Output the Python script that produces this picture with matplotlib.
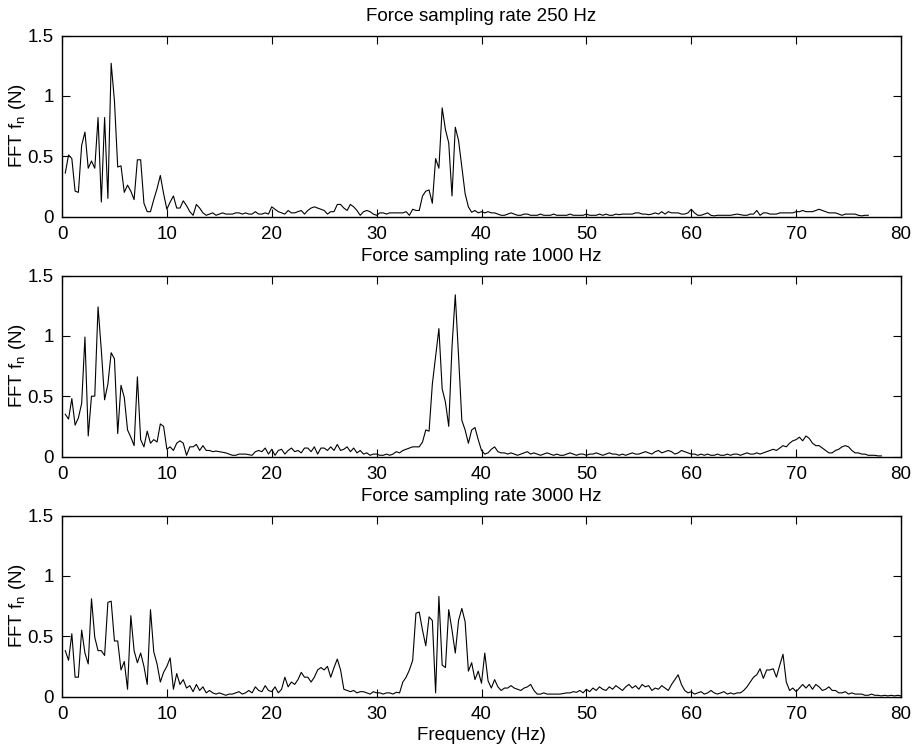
import numpy as np
import matplotlib
matplotlib.use("Agg")
import matplotlib.pyplot as plt

plt.rcParams['font.family'] = ['Liberation Sans', 'DejaVu Sans']
plt.rcParams['mathtext.fontset'] = 'custom'
plt.rcParams['mathtext.rm'] = 'Liberation Sans'
plt.rcParams['font.size'] = 13.5

DF = 0.3125  # frequency bin width (Hz)

titles = ["Force sampling rate 250 Hz",
          "Force sampling rate 1000 Hz",
          "Force sampling rate 3000 Hz"]

amp_250 = [
    0.36, 0.51, 0.48, 0.21, 0.20, 0.59, 0.70, 0.40, 0.46, 0.40,
    0.82, 0.12, 0.82, 0.15, 1.27, 0.96, 0.41, 0.42, 0.20, 0.26,
    0.21, 0.14, 0.47, 0.47, 0.11, 0.04, 0.04, 0.14, 0.23, 0.34,
    0.19, 0.06, 0.12, 0.17, 0.07, 0.07, 0.13, 0.09, 0.04, 0.01,
    0.10, 0.07, 0.03, 0.01, 0.02, 0.03, 0.01, 0.02, 0.03, 0.02,
    0.02, 0.02, 0.03, 0.03, 0.02, 0.03, 0.02, 0.02, 0.04, 0.02,
    0.02, 0.03, 0.02, 0.08, 0.06, 0.04, 0.03, 0.02, 0.05, 0.03,
    0.03, 0.04, 0.05, 0.02, 0.05, 0.07, 0.08, 0.07, 0.06, 0.05,
    0.02, 0.04, 0.04, 0.10, 0.10, 0.07, 0.05, 0.10, 0.08, 0.05,
    0.01, 0.04, 0.05, 0.04, 0.02, 0.01, 0.03, 0.03, 0.02, 0.03,
    0.03, 0.03, 0.03, 0.03, 0.04, 0.01, 0.06, 0.05, 0.05, 0.17,
    0.21, 0.22, 0.11, 0.48, 0.40, 0.90, 0.72, 0.61, 0.17, 0.74,
    0.63, 0.41, 0.19, 0.08, 0.035, 0.05, 0.03, 0.04, 0.03, 0.04,
    0.03, 0.03, 0.02, 0.01, 0.01, 0.02, 0.03, 0.02, 0.01, 0.01,
    0.02, 0.02, 0.01, 0.01, 0.01, 0.02, 0.01, 0.01, 0.01, 0.02,
    0.01, 0.01, 0.01, 0.01, 0.02, 0.01, 0.01, 0.01, 0.01, 0.02,
    0.01, 0.01, 0.01, 0.02, 0.01, 0.02, 0.01, 0.01, 0.02, 0.015,
    0.02, 0.02, 0.02, 0.02, 0.03, 0.03, 0.02, 0.02, 0.015, 0.02,
    0.03, 0.02, 0.04, 0.02, 0.04, 0.03, 0.03, 0.03, 0.02, 0.02,
    0.03, 0.06, 0.03, 0.01, 0.01, 0.02, 0.03, 0.01, 0.005, 0.01,
    0.01, 0.01, 0.01, 0.01, 0.015, 0.02, 0.015, 0.01, 0.01, 0.02,
    0.02, 0.05, 0.01, 0.03, 0.03, 0.02, 0.02, 0.02, 0.03, 0.03,
    0.03, 0.03, 0.03, 0.04, 0.04, 0.05, 0.04, 0.04, 0.04, 0.05,
    0.06, 0.05, 0.04, 0.03, 0.03, 0.03, 0.02, 0.01, 0.02, 0.02,
    0.02, 0.02, 0.01, 0.005, 0.01, 0.01,
]

amp_1000 = [
    0.35, 0.31, 0.48, 0.26, 0.32, 0.44, 0.99, 0.17, 0.50, 0.50,
    1.24, 0.88, 0.47, 0.60, 0.86, 0.81, 0.19, 0.59, 0.49, 0.22,
    0.16, 0.09, 0.66, 0.14, 0.08, 0.21, 0.11, 0.14, 0.12, 0.27,
    0.25, 0.06, 0.08, 0.05, 0.11, 0.13, 0.11, 0.01, 0.08, 0.08,
    0.10, 0.05, 0.09, 0.05, 0.05, 0.04, 0.045, 0.04, 0.035, 0.03,
    0.02, 0.01, 0.01, 0.02, 0.02, 0.02, 0.015, 0.01, 0.04, 0.05,
    0.04, 0.07, 0.02, 0.06, 0.01, 0.05, 0.06, 0.02, 0.05, 0.07,
    0.04, 0.05, 0.03, 0.07, 0.07, 0.04, 0.08, 0.02, 0.07, 0.07,
    0.05, 0.08, 0.05, 0.10, 0.05, 0.06, 0.08, 0.04, 0.07, 0.03,
    0.05, 0.02, 0.03, 0.01, 0.02, 0.02, 0.01, 0.01, 0.02, 0.01,
    0.02, 0.04, 0.03, 0.05, 0.06, 0.07, 0.08, 0.08, 0.08, 0.12,
    0.22, 0.21, 0.60, 0.83, 1.06, 0.56, 0.45, 0.25, 0.91, 1.34,
    0.83, 0.30, 0.22, 0.11, 0.22, 0.24, 0.14, 0.05, 0.02, 0.03,
    0.06, 0.08, 0.04, 0.03, 0.03, 0.02, 0.03, 0.02, 0.01, 0.02,
    0.03, 0.04, 0.02, 0.03, 0.02, 0.01, 0.02, 0.03, 0.02, 0.01,
    0.02, 0.01, 0.01, 0.02, 0.03, 0.02, 0.01, 0.02, 0.02, 0.01,
    0.02, 0.02, 0.03, 0.02, 0.01, 0.02, 0.03, 0.02, 0.02, 0.01,
    0.02, 0.01, 0.02, 0.03, 0.02, 0.02, 0.03, 0.04, 0.03, 0.02,
    0.04, 0.05, 0.03, 0.04, 0.05, 0.04, 0.02, 0.03, 0.05, 0.04,
    0.03, 0.02, 0.02, 0.01, 0.02, 0.01, 0.02, 0.01, 0.01, 0.02,
    0.01, 0.01, 0.02, 0.01, 0.02, 0.02, 0.01, 0.02, 0.03, 0.02,
    0.02, 0.03, 0.02, 0.03, 0.04, 0.05, 0.06, 0.05, 0.07, 0.09,
    0.08, 0.11, 0.13, 0.14, 0.16, 0.13, 0.17, 0.15, 0.11, 0.09,
    0.09, 0.07, 0.05, 0.03, 0.03, 0.05, 0.06, 0.08, 0.09, 0.08,
    0.05, 0.03, 0.03, 0.02, 0.02, 0.01, 0.01, 0.01, 0.005, 0.005,
]

amp_3000 = [
    0.38, 0.30, 0.52, 0.16, 0.16, 0.55, 0.36, 0.27, 0.81, 0.49,
    0.38, 0.38, 0.34, 0.78, 0.79, 0.46, 0.46, 0.22, 0.29, 0.06,
    0.67, 0.38, 0.28, 0.36, 0.25, 0.10, 0.72, 0.37, 0.27, 0.12,
    0.20, 0.25, 0.32, 0.06, 0.19, 0.10, 0.14, 0.07, 0.09, 0.04,
    0.10, 0.05, 0.08, 0.03, 0.05, 0.03, 0.02, 0.03, 0.02, 0.01,
    0.02, 0.02, 0.03, 0.04, 0.02, 0.03, 0.05, 0.03, 0.08, 0.05,
    0.04, 0.09, 0.05, 0.04, 0.08, 0.03, 0.06, 0.16, 0.08, 0.12,
    0.10, 0.14, 0.20, 0.16, 0.16, 0.12, 0.16, 0.22, 0.24, 0.22,
    0.25, 0.16, 0.24, 0.31, 0.22, 0.06, 0.05, 0.04, 0.05, 0.03,
    0.04, 0.04, 0.03, 0.02, 0.04, 0.03, 0.03, 0.02, 0.03, 0.03,
    0.02, 0.035, 0.03, 0.12, 0.16, 0.22, 0.30, 0.69, 0.70, 0.55,
    0.42, 0.66, 0.63, 0.03, 0.83, 0.26, 0.24, 0.72, 0.55, 0.36,
    0.63, 0.73, 0.62, 0.21, 0.28, 0.14, 0.21, 0.11, 0.36, 0.13,
    0.07, 0.14, 0.08, 0.05, 0.07, 0.07, 0.09, 0.07, 0.06, 0.05,
    0.07, 0.08, 0.10, 0.05, 0.02, 0.02, 0.03, 0.02, 0.02, 0.02,
    0.02, 0.02, 0.025, 0.03, 0.03, 0.04, 0.035, 0.05, 0.03, 0.06,
    0.04, 0.07, 0.05, 0.08, 0.06, 0.05, 0.08, 0.06, 0.09, 0.07,
    0.05, 0.08, 0.10, 0.07, 0.09, 0.06, 0.10, 0.08, 0.09, 0.05,
    0.07, 0.06, 0.09, 0.07, 0.05, 0.10, 0.14, 0.18, 0.10, 0.05,
    0.03, 0.04, 0.02, 0.03, 0.04, 0.02, 0.03, 0.05, 0.03, 0.02,
    0.03, 0.04, 0.02, 0.03, 0.02, 0.03, 0.03, 0.05, 0.08, 0.12,
    0.16, 0.18, 0.23, 0.15, 0.22, 0.22, 0.23, 0.16, 0.26, 0.35,
    0.12, 0.05, 0.07, 0.04, 0.07, 0.10, 0.07, 0.10, 0.06, 0.10,
    0.08, 0.05, 0.06, 0.08, 0.05, 0.05, 0.03, 0.03, 0.04, 0.02,
    0.03, 0.02, 0.02, 0.02, 0.01, 0.01, 0.02, 0.01, 0.01, 0.005,
    0.01, 0.005, 0.01, 0.005, 0.01, 0.005,
]

series = [amp_250, amp_1000, amp_3000]

fig = plt.figure(figsize=(9.16, 7.48), dpi=100)

left = 62 / 916
width = 839 / 916
height = 181 / 748
bottoms = [531.5 / 748, 291.5 / 748, 51.5 / 748]

for i, amp in enumerate(series):
    ax = fig.add_axes([left, bottoms[i], width, height])
    freq = np.arange(1, len(amp) + 1) * DF
    ax.plot(freq, amp, color='black', linewidth=0.8)

    ax.set_xlim(0, 80)
    ax.set_ylim(0, 1.5)
    ax.set_xticks(np.arange(0, 81, 10))
    ax.set_yticks([0, 0.5, 1, 1.5])
    ax.set_yticklabels(["0", "0.5", "1", "1.5"])
    ax.tick_params(direction='in', top=True, right=True, length=6,
                   width=0.8, labelsize=13.5)
    ax.tick_params(axis='x', pad=7)
    ax.tick_params(axis='y', pad=6)
    for s in ax.spines.values():
        s.set_linewidth(1.0)

    ax.set_title(titles[i], fontsize=13.5, pad=10.3)
    ax.set_ylabel(r"FFT f$_\mathregular{n}$ (N)", fontsize=13.5)
    ax.yaxis.set_label_coords(-0.040, 0.5)

    if i == 2:
        ax.set_xlabel("Frequency (Hz)", fontsize=13.5, labelpad=3)

fig.savefig("out.png", dpi=100)
